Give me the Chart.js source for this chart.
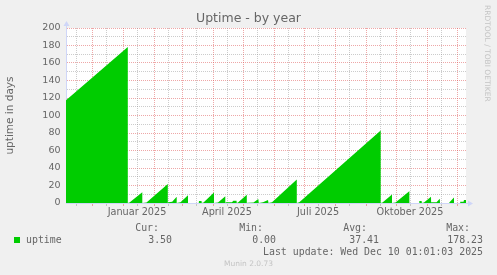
<!DOCTYPE html>
<html>
<head>
<meta charset="utf-8">
<script src="https://cdn.jsdelivr.net/npm/chart.js@4.4.1/dist/chart.umd.min.js"></script>
<style>
  html, body { margin: 0; padding: 0; background: #F0F0F0; }
  #wrap { position: relative; width: 497px; height: 275px; overflow: hidden; }
  #c { position: absolute; left: 0; top: 0; }
  .t { position: absolute; font-family: "DejaVu Sans Mono", monospace; font-size: 9.9px; line-height: 10px; color: #666; white-space: pre; }
  .r { text-align: right; }
  .wm { position: absolute; font-family: "DejaVu Sans", sans-serif; font-size: 7.5px; line-height: 8px; color: #c4c4c4; white-space: pre; }
</style>
</head>
<body>
<div id="wrap">
  <canvas id="c" width="497" height="275"></canvas>
  <div class="wm" style="left:483px; top:5px; writing-mode:vertical-rl;">RRDTOOL / TOBI OETIKER</div>
  <div class="t r" style="right:338px; top:222.5px;">Cur:</div>
  <div class="t r" style="right:234px; top:222.5px;">Min:</div>
  <div class="t r" style="right:130px; top:222.5px;">Avg:</div>
  <div class="t r" style="right:27px; top:222.5px;">Max:</div>
  <div style="position:absolute; left:14px; top:237px; width:6px; height:6px; background:#00CC00;"></div>
  <div class="t" style="left:26px; top:234.5px;">uptime</div>
  <div class="t r" id="cur" style="right:325px; top:234.5px;"></div>
  <div class="t r" id="min" style="right:221px; top:234.5px;"></div>
  <div class="t r" id="avg" style="right:118px; top:234.5px;"></div>
  <div class="t r" id="max" style="right:14px; top:234.5px;"></div>
  <div class="t r" style="right:14px; top:246.5px;">Last update: Wed Dec 10 01:01:03 2025</div>
  <div class="wm" style="left:0; width:497px; text-align:center; top:260px;">Munin 2.0.73</div>
</div>
<script>
// x is in days since 2024-11-05 (left edge of the year graph)
const startDate = '2024-11-05';
const endDay = 400;

// sawtooth vertices (null = no data)
const uptimeDay = [
  0, 61.8, 61.8,
  63.5, 76.3, 76.3,
  80.5, 101.8, 101.8,
  102.3, 106.2, 110.7, 110.7,
  114.5, 122, 122,
  127,
  132.5, 133, 135.5, 135.8,
  137.5, 148, 148,
  152, 159.3, 159.3,
  160, 166, 167.3, 170.5, 170.8,
  172, 180.8, 180.8,
  182, 187.5, 192.3, 192.8,
  197, 202, 202.5,
  206, 230.8, 230.8,
  233.3, 314.7, 314.7,
  316.5, 326, 326,
  329.5, 343.6, 343.6,
  348,
  353, 353.3, 355.6, 355.9,
  358, 365, 365,
  365.3, 370.5, 373.8, 374,
  378,
  383, 383.3, 388, 388,
  391,
  394, 394.2, 397.5, 398, 400
];
const uptimeValue = [
  117.5, 178.23, 0,
  0.5, 12.4, 0,
  0.5, 21.7, 0,
  1, 1.5, 7.2, 0,
  1, 9, 0,
  null,
  0, 2.3, 2.3, 0,
  0.5, 12, 0,
  0.5, 7.8, 0,
  0.8, 0.8, 2.7, 2.7, 0,
  0.5, 9.3, 0,
  0.3, 0.5, 4.5, 0,
  1, 3.4, 0,
  1, 27, 0,
  1, 82.8, 0,
  0.5, 9.6, 0,
  0.5, 13.7, 0,
  null,
  0, 2.3, 2.3, 0,
  0.5, 7.2, 0,
  1, 1, 5, 0,
  null,
  0, 0.5, 6.3, 0,
  null,
  0, 1.5, 1.5, 3.5, 3.5
];

const summary = { cur: '3.50', min: '0.00', avg: '37.41', max: '178.23' };

const majorTickDates = ['2024-12-01', '2025-01-01', '2025-02-01', '2025-03-01', '2025-04-01', '2025-05-01',
  '2025-06-01', '2025-07-01', '2025-08-01', '2025-09-01', '2025-10-01', '2025-11-01', '2025-12-01'];
const minorTickDates = ['2024-11-15', '2024-12-15', '2025-01-15', '2025-02-15', '2025-03-15', '2025-04-15',
  '2025-05-15', '2025-06-15', '2025-07-15', '2025-08-15', '2025-09-15', '2025-10-15', '2025-11-15'];
const labelDates = ['2025-01-15', '2025-04-15', '2025-07-15', '2025-10-15'];
const labelTexts = ['Januar 2025', 'April 2025', 'Juli 2025', 'Oktober 2025'];

const dayOf = s => Math.round((Date.parse(s + 'T00:00:00Z') - Date.parse(startDate + 'T00:00:00Z')) / 86400000);
const majorDays = majorTickDates.map(dayOf);
const minorDays = minorTickDates.map(dayOf);
const labelDays = labelDates.map(dayOf);

document.getElementById('cur').textContent = summary.cur;
document.getElementById('min').textContent = summary.min;
document.getElementById('avg').textContent = summary.avg;
document.getElementById('max').textContent = summary.max;

const GRID = 'rgba(143,143,143,0.45)';
const MGRID = 'rgba(222,79,79,0.5)';
const AXIS = '#CFD6F8';
const FONT = '#666666';

const plotBg = {
  id: 'plotBg',
  beforeDraw(chart) {
    const { ctx, chartArea: a } = chart;
    ctx.save();
    ctx.fillStyle = '#FFFFFF';
    ctx.fillRect(a.left, a.top, a.right - a.left, a.bottom - a.top);
    ctx.restore();
  }
};

// the little arrow heads at the end of both axes
const arrows = {
  id: 'arrows',
  afterDraw(chart) {
    const { ctx, chartArea: a } = chart;
    const x0 = Math.round(a.left) + 0.5;
    const y0 = Math.round(a.bottom) + 0.5;
    ctx.save();
    ctx.strokeStyle = AXIS;
    ctx.fillStyle = AXIS;
    ctx.lineWidth = 1;
    ctx.beginPath();
    ctx.moveTo(x0, a.top);
    ctx.lineTo(x0, a.top - 2);
    ctx.moveTo(a.right, y0);
    ctx.lineTo(a.right + 2, y0);
    ctx.stroke();
    ctx.beginPath();
    ctx.moveTo(x0 - 3, a.top - 2);
    ctx.lineTo(x0 + 3, a.top - 2);
    ctx.lineTo(x0, a.top - 7);
    ctx.closePath();
    ctx.fill();
    ctx.beginPath();
    ctx.moveTo(a.right + 2, y0 - 3);
    ctx.lineTo(a.right + 2, y0 + 3);
    ctx.lineTo(a.right + 7, y0);
    ctx.closePath();
    ctx.fill();
    ctx.restore();
  }
};

const points = uptimeDay.map((d, i) => ({ x: d, y: uptimeValue[i] }));

new Chart(document.getElementById('c'), {
  type: 'line',
  data: {
    datasets: [{
      label: 'uptime',
      data: points,
      yAxisID: 'y',
      backgroundColor: '#00CC00',
      borderColor: '#00CC00',
      borderWidth: 0,
      pointRadius: 0,
      tension: 0,
      fill: 'origin',
      spanGaps: false
    }]
  },
  options: {
    responsive: false,
    animation: false,
    devicePixelRatio: 1,
    layout: { padding: 0 },
    plugins: {
      legend: { display: false },
      tooltip: { enabled: false },
      title: {
        display: true,
        text: 'Uptime - by year',
        color: FONT,
        font: { family: 'DejaVu Sans', size: 12.5, weight: 'normal', lineHeight: 1.2 },
        padding: { top: 11.3, bottom: 1.7 }
      }
    },
    scales: {
      y: {
        min: 0,
        max: 200,
        afterFit: s => { s.width = 66; },
        ticks: {
          stepSize: 10,
          autoSkip: false,
          color: FONT,
          padding: 5.5,
          font: { family: 'DejaVu Sans', size: 9.5 },
          callback: v => (v % 20 === 0 ? String(v) : '')
        },
        grid: {
          drawTicks: false,
          color: c => (c.tick && c.tick.value % 20 === 0 ? MGRID : GRID)
        },
        border: { color: AXIS, dash: [1, 1] },
        title: {
          display: true,
          text: 'uptime in days',
          color: FONT,
          font: { family: 'DejaVu Sans', size: 10.5 },
          padding: { top: 4, bottom: 0 }
        }
      },
      yRight: {
        position: 'right',
        display: true,
        min: 0,
        max: 1,
        afterFit: s => { s.width = 31; },
        ticks: { display: false },
        grid: { display: false, drawOnChartArea: false },
        border: { display: false }
      },
      x: {
        type: 'linear',
        min: 0,
        max: endDay,
        afterFit: s => { s.height = 72; },
        afterBuildTicks: s => {
          s.ticks = majorDays.concat(minorDays).sort((a, b) => a - b).map(v => ({ value: v }));
        },
        ticks: {
          autoSkip: false,
          maxRotation: 0,
          color: FONT,
          padding: 1,
          font: { family: 'DejaVu Sans', size: 9.7 },
          callback: v => {
            const i = labelDays.indexOf(v);
            return i >= 0 ? labelTexts[i] : '';
          }
        },
        grid: {
          tickLength: 3,
          color: c => (c.tick && majorDays.includes(c.tick.value) ? MGRID : GRID),
          tickColor: c => (c.tick && majorDays.includes(c.tick.value) ? MGRID : GRID)
        },
        border: { color: AXIS, dash: [1, 1] }
      }
    }
  },
  plugins: [plotBg, arrows]
});
</script>
</body>
</html>
